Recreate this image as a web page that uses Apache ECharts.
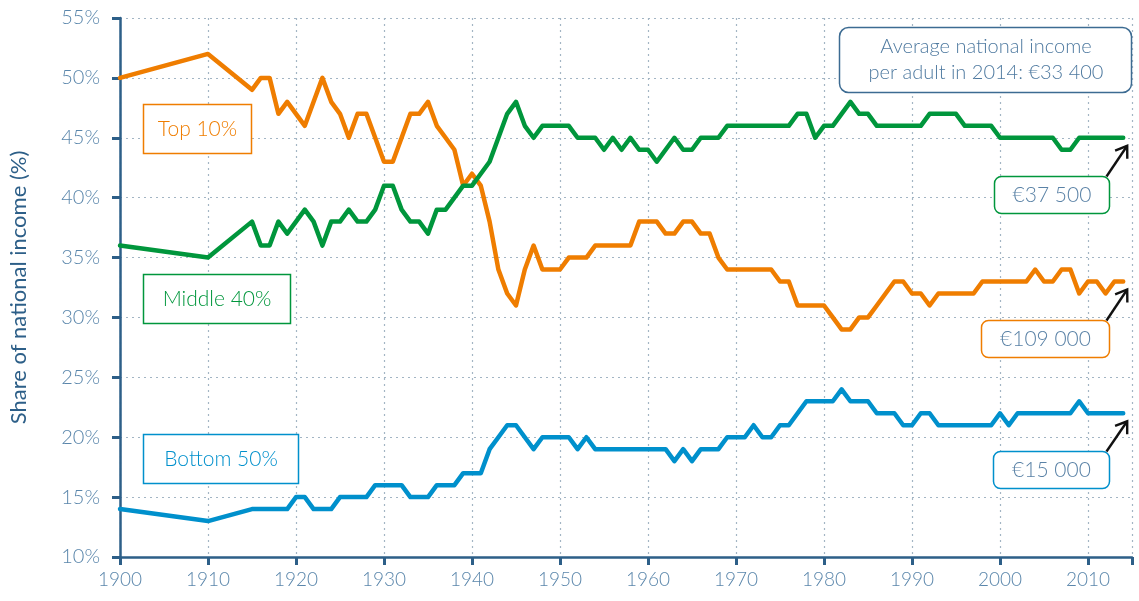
<!DOCTYPE html>
<html>
<head>
<meta charset="utf-8">
<script src="https://cdn.jsdelivr.net/npm/echarts@6/dist/echarts.min.js"></script>
<style>html,body{margin:0;padding:0;background:#fff;}#c{width:1139px;height:601px;}</style>
</head>
<body>
<div id="c"></div>
<script>
var years = [1900, 1910,
  1915, 1916, 1917, 1918, 1919,
  1920, 1921, 1922, 1923, 1924, 1925, 1926, 1927, 1928, 1929,
  1930, 1931, 1932, 1933, 1934, 1935, 1936, 1937, 1938, 1939,
  1940, 1941, 1942, 1943, 1944, 1945, 1946, 1947, 1948, 1949,
  1950, 1951, 1952, 1953, 1954, 1955, 1956, 1957, 1958, 1959,
  1960, 1961, 1962, 1963, 1964, 1965, 1966, 1967, 1968, 1969,
  1970, 1971, 1972, 1973, 1974, 1975, 1976, 1977, 1978, 1979,
  1980, 1981, 1982, 1983, 1984, 1985, 1986, 1987, 1988, 1989,
  1990, 1991, 1992, 1993, 1994, 1995, 1996, 1997, 1998, 1999,
  2000, 2001, 2002, 2003, 2004, 2005, 2006, 2007, 2008, 2009,
  2010, 2011, 2012, 2013, 2014];

var top10 = [50, 52,
  49, 50, 50, 47, 48,
  47, 46, 48, 50, 48, 47, 45, 47, 47, 45,
  43, 43, 45, 47, 47, 48, 46, 45, 44, 41,
  42, 41, 38, 34, 32, 31, 34, 36, 34, 34,
  34, 35, 35, 35, 36, 36, 36, 36, 36, 38,
  38, 38, 37, 37, 38, 38, 37, 37, 35, 34,
  34, 34, 34, 34, 34, 33, 33, 31, 31, 31,
  31, 30, 29, 29, 30, 30, 31, 32, 33, 33,
  32, 32, 31, 32, 32, 32, 32, 32, 33, 33,
  33, 33, 33, 33, 34, 33, 33, 34, 34, 32,
  33, 33, 32, 33, 33];

var middle40 = [36, 35,
  38, 36, 36, 38, 37,
  38, 39, 38, 36, 38, 38, 39, 38, 38, 39,
  41, 41, 39, 38, 38, 37, 39, 39, 40, 41,
  41, 42, 43, 45, 47, 48, 46, 45, 46, 46,
  46, 46, 45, 45, 45, 44, 45, 44, 45, 44,
  44, 43, 44, 45, 44, 44, 45, 45, 45, 46,
  46, 46, 46, 46, 46, 46, 46, 47, 47, 45,
  46, 46, 47, 48, 47, 47, 46, 46, 46, 46,
  46, 46, 47, 47, 47, 47, 46, 46, 46, 46,
  45, 45, 45, 45, 45, 45, 45, 44, 44, 45,
  45, 45, 45, 45, 45];

var bottom50 = [14, 13,
  14, 14, 14, 14, 14,
  15, 15, 14, 14, 14, 15, 15, 15, 15, 16,
  16, 16, 16, 15, 15, 15, 16, 16, 16, 17,
  17, 17, 19, 20, 21, 21, 20, 19, 20, 20,
  20, 20, 19, 20, 19, 19, 19, 19, 19, 19,
  19, 19, 19, 18, 19, 18, 19, 19, 19, 20,
  20, 20, 21, 20, 20, 21, 21, 22, 23, 23,
  23, 23, 24, 23, 23, 23, 22, 22, 22, 21,
  21, 22, 22, 21, 21, 21, 21, 21, 21, 21,
  22, 21, 22, 22, 22, 22, 22, 22, 22, 23,
  22, 22, 22, 22, 22];

var seriesNames = ['Top 10%', 'Middle 40%', 'Bottom 50%'];
var endLabels = ['€109 000', '€37 500', '€15 000'];
var infoLines = ['Average national income', 'per adult in 2014: €33 400'];
var yAxisTitle = 'Share of national income (%)';

var colors = ['#ef7d00', '#00963c', '#0090cc'];
var axisColor = '#2d5f88';
var labelColor = '#5a86ab';
var FONT = 'Lato, "Open Sans", sans-serif';

function pairs(vals) { return years.map(function (y, i) { return [y, vals[i]]; }); }

var chart = echarts.init(document.getElementById('c'), null, { renderer: 'canvas' });

var allSeries = [top10, middle40, bottom50];
chart.setOption({
  animation: false,
  backgroundColor: '#ffffff',
  grid: { left: 120, right: 7, top: 18, bottom: 44, containLabel: false },
  xAxis: {
    type: 'value', min: 1900, max: 2015, interval: 10,
    axisLine: { show: true, lineStyle: { color: axisColor, width: 2.5 } },
    axisTick: { show: true, length: 8, lineStyle: { color: axisColor, width: 3 } },
    axisLabel: { color: labelColor, fontSize: 19, fontFamily: FONT, fontWeight: 300, margin: 13,
      formatter: function (v) { return v > 2014 ? '' : String(v); } },
    splitLine: { show: true, lineStyle: { color: '#a3b5c4', type: [2, 4], width: 1.2 } }
  },
  yAxis: {
    type: 'value', min: 10, max: 55, interval: 5,
    name: yAxisTitle, nameLocation: 'middle', nameGap: 90, nameRotate: 90,
    nameTextStyle: { color: axisColor, fontSize: 22, fontFamily: FONT, fontWeight: 400 },
    axisLine: { show: true, lineStyle: { color: axisColor, width: 2.5 } },
    axisTick: { show: true, length: 8, lineStyle: { color: axisColor, width: 3 } },
    axisLabel: { color: labelColor, fontSize: 20, fontFamily: FONT, fontWeight: 300, margin: 20,
      formatter: function (v) { return v + '%'; } },
    splitLine: { show: true, lineStyle: { color: '#a3b5c4', type: [2, 4], width: 1.2 } }
  },
  series: allSeries.map(function (vals, i) {
    return {
      name: seriesNames[i], type: 'line', data: pairs(vals),
      showSymbol: false, symbol: 'none',
      lineStyle: { color: colors[i], width: 4.5, join: 'round', cap: 'round' },
      z: 3 + i
    };
  })
});

// Annotations
var graphics = [];
function box(x, y, w, h, r, stroke, text, textColor, fs) {
  graphics.push({ type: 'rect', shape: { x: x, y: y, width: w, height: h, r: r },
    style: { fill: '#ffffff', stroke: stroke, lineWidth: 1.5 }, z: 10 });
  graphics.push({ type: 'text', x: x + w / 2, y: y + h / 2,
    style: { text: text, fill: textColor, font: '300 ' + fs + 'px ' + FONT, textAlign: 'center', textVerticalAlign: 'middle' }, z: 11 });
}
// series name boxes
box(143.5, 104.5, 108, 49, 0, colors[0], seriesNames[0], colors[0], 21);
box(143.5, 274.5, 147, 49, 0, colors[1], seriesNames[1], colors[1], 21);
box(143.5, 434.5, 155, 49, 0, colors[2], seriesNames[2], colors[2], 21);

// end value boxes with arrows
var last = years.length - 1;
var endBoxes = [
  { x: 981.5, y: 320.5, w: 128, h: 37, s: 0 },
  { x: 994.5, y: 176.5, w: 115, h: 37, s: 1 },
  { x: 993.5, y: 451.5, w: 116, h: 37, s: 2 }
];
endBoxes.forEach(function (b, k) {
  box(b.x, b.y, b.w, b.h, 7, colors[b.s], endLabels[k], '#5a82a6', 21);
  var p = chart.convertToPixel({ gridIndex: 0 }, [years[last], allSeries[b.s][last]]);
  var tip = [p[0] + 4, p[1] + 8];
  var start = [b.x + b.w - 3, b.y];
  var dx = tip[0] - start[0], dy = tip[1] - start[1];
  var len = Math.sqrt(dx * dx + dy * dy);
  var ux = dx / len, uy = dy / len;
  var ah = 13, ang = 0.6;
  function rot(a) {
    var c = Math.cos(a), s = Math.sin(a);
    return [tip[0] - ah * (ux * c - uy * s), tip[1] - ah * (ux * s + uy * c)];
  }
  graphics.push({ type: 'line', shape: { x1: start[0], y1: start[1], x2: tip[0], y2: tip[1] },
    style: { stroke: '#111', lineWidth: 2.4 }, z: 12 });
  graphics.push({ type: 'polyline', shape: { points: [rot(ang), tip, rot(-ang)] },
    style: { stroke: '#111', lineWidth: 2.4, fill: null }, z: 12 });
});

// info box
graphics.push({ type: 'rect', shape: { x: 839.5, y: 27.5, width: 292, height: 65, r: 9 },
  style: { fill: '#ffffff', stroke: '#3c6b92', lineWidth: 1.5 }, z: 10 });
graphics.push({ type: 'text', x: 986, y: 47,
  style: { text: infoLines[0], fill: '#4f7aa0', font: '300 20px ' + FONT, textAlign: 'center', textVerticalAlign: 'middle' }, z: 11 });
graphics.push({ type: 'text', x: 986, y: 73,
  style: { text: infoLines[1], fill: '#4f7aa0', font: '300 20px ' + FONT, textAlign: 'center', textVerticalAlign: 'middle' }, z: 11 });

chart.setOption({ graphic: graphics });
</script>
</body>
</html>
